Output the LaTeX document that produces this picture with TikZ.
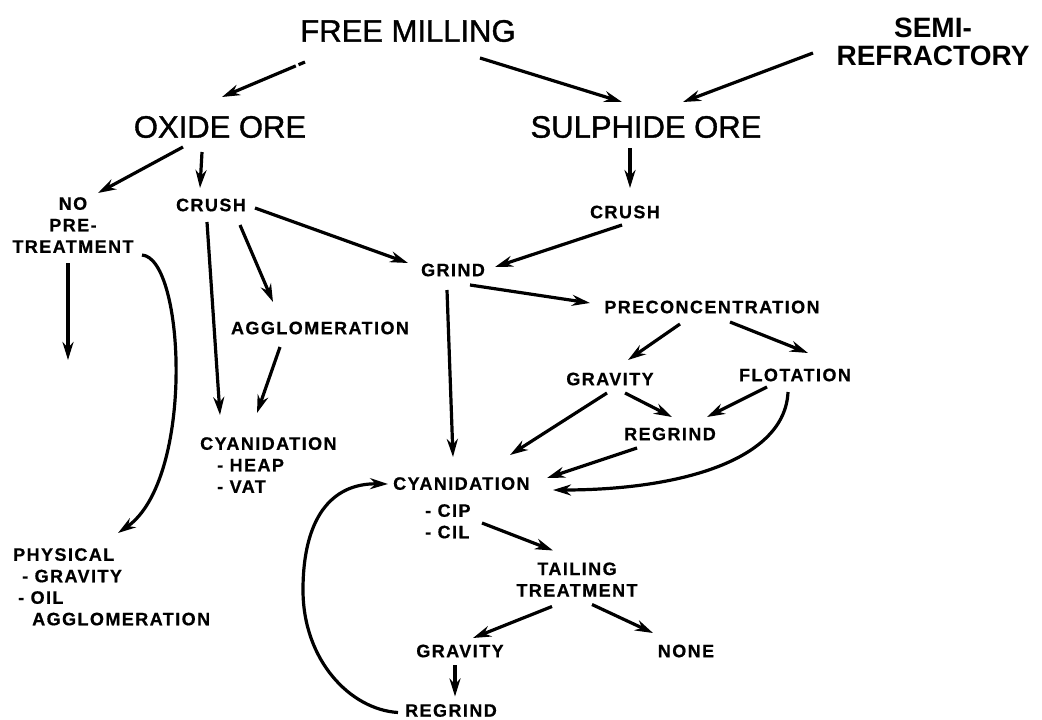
\documentclass[tikz,border=0pt]{standalone}
\usepackage{fontspec}
\setmainfont{Liberation Sans}
\newfontfamily\bigfont[FakeBold=1.2]{Liberation Sans}
\newfontfamily\lblfont[LetterSpace=8,FakeBold=0.6]{Liberation Sans Bold}
\usetikzlibrary{arrows.meta}
\begin{document}
\begin{tikzpicture}[x=1pt,y=-1pt,
  big/.style={font=\bigfont\fontsize{31}{31}\selectfont, inner sep=0pt},
  bigb/.style={font=\fontsize{28}{28}\selectfont\bfseries, inner sep=0pt, align=center},
  lbl/.style={font=\lblfont\fontsize{18}{21.5}\selectfont, inner sep=0pt},
  arr/.style={line width=3.2pt, -{Stealth[length=18pt,width=11pt]}},
]
\fill[white] (0,0) rectangle (1042,720);
\path[use as bounding box] (0,0) rectangle (1042,720);

\node[big] (free) at (408,31) {FREE MILLING};
\node[bigb] (semi) at (933,41.5) {SEMI-\\REFRACTORY};
\node[big] (oxide) at (220,127) {OXIDE ORE};
\node[big] (sulph) at (646,127) {SULPHIDE ORE};
\node[lbl, align=center] (no) at (73,225) {NO\\PRE-\\TREATMENT};
\node[lbl] (crushL) at (211,205) {CRUSH};
\node[lbl] (crushR) at (625,212) {CRUSH};
\node[lbl] (grind) at (453,270) {GRIND};
\node[lbl] (precon) at (712,307) {PRECONCENTRATION};
\node[lbl] (agglom) at (320,328) {AGGLOMERATION};
\node[lbl] (gravM) at (610,379) {GRAVITY};
\node[lbl] (flot) at (795,375) {FLOTATION};
\node[lbl] (regrM) at (670,434) {REGRIND};
\node[lbl, align=left, anchor=north west] (cyanL) at (200,437) {CYANIDATION\\\hspace*{17pt}- HEAP\\\hspace*{17pt}- VAT};
\node[lbl, align=left, anchor=north west] (cyanR) at (393,477) {CYANIDATION\\[5.5pt]\hspace*{32pt}- CIP\\\hspace*{32pt}- CIL};
\node[lbl, align=left, anchor=north west] (phys) at (13,548) {PHYSICAL\\\hspace*{9pt}- GRAVITY\\\hspace*{5pt}- OIL\\\hspace*{19pt}AGGLOMERATION};
\node[lbl, align=center] (tail) at (577,579.5) {TAILING\\TREATMENT};
\node[lbl] (gravB) at (460,651) {GRAVITY};
\node[lbl] (none) at (686,651) {NONE};
\node[lbl] (regrB) at (451,710.5) {REGRIND};

\coordinate (noend) at (68,360);
\coordinate (loopL) at (303,590);

\draw[arr, dash pattern=on 7pt off 3pt on 400pt] ([shift={(-103,31)}]free.center) -- ([shift={(2,-30)}]oxide.center);
\draw[arr] ([shift={(72,27)}]free.center) -- ([shift={(-24,-25)}]sulph.center);
\draw[arr] ([shift={(-120,11.5)}]semi.center) -- ([shift={(37,-25)}]sulph.center);
\draw[arr] ([shift={(-37,20)}]oxide.center) -- ([shift={(25,-32)}]no.center);
\draw[arr] ([shift={(-18,25)}]oxide.center) -- ([shift={(-11,-17)}]crushL.center);
\draw[arr] ([shift={(-16,21)}]sulph.center) -- ([shift={(5,-24)}]crushR.center);
\draw[arr] ([shift={(-5,38)}]no.center) -- (noend);
\draw[arr] ([shift={(69,30)}]no.center) .. controls +(43,3) and +(77,-53) .. ([shift={(105,-15)}]phys.north west);
\draw[arr] ([shift={(44,3)}]crushL.center) -- ([shift={(-45,-7)}]grind.center);
\draw[arr] ([shift={(29,20)}]crushL.center) -- ([shift={(-47,-26)}]agglom.center);
\draw[arr] ([shift={(-4,17)}]crushL.center) -- ([shift={(20,-22)}]cyanL.north west);
\draw[arr] ([shift={(-40,19)}]agglom.center) -- ([shift={(57,-24)}]cyanL.north west);
\draw[arr] ([shift={(-3,13)}]crushR.center) -- ([shift={(42,-3)}]grind.center);
\draw[arr] ([shift={(17,15)}]grind.center) -- ([shift={(-122,-4)}]precon.center);
\draw[arr] ([shift={(-6,20)}]grind.center) -- ([shift={(60,-20)}]cyanR.north west);
\draw[arr] ([shift={(-32,17)}]precon.center) -- ([shift={(18,-19)}]gravM.center);
\draw[arr] ([shift={(18,15)}]precon.center) -- ([shift={(13,-22)}]flot.center);
\draw[arr] ([shift={(-3,14)}]gravM.center) -- ([shift={(117,-22)}]cyanR.north west);
\draw[arr] ([shift={(15,14)}]gravM.center) -- ([shift={(2,-17)}]regrM.center);
\draw[arr] ([shift={(-28,12)}]flot.center) -- ([shift={(37,-17)}]regrM.center);
\draw[arr] ([shift={(-33,14)}]regrM.center) -- ([shift={(154,1)}]cyanR.north west);
\draw[arr] ([shift={(-7,17)}]flot.center) .. controls +(-3,68) and +(127,0) .. ([shift={(160,13)}]cyanR.north west);
\draw[arr] ([shift={(89,46)}]cyanR.north west) -- ([shift={(-24,-29)}]tail.center);
\draw[arr] ([shift={(-25,27)}]tail.center) -- ([shift={(13,-13)}]gravB.center);
\draw[arr] ([shift={(15,25)}]tail.center) -- ([shift={(-33,-18)}]none.center);
\draw[arr] ([shift={(-5,14)}]gravB.center) -- ([shift={(4,-14)}]regrB.center);
\draw[arr] ([shift={(-53,2)}]regrB.center) .. controls +(-48,-3) and +(0,70) .. (loopL)
  .. controls +(0,-70) and +(-58,-1) .. ([shift={(-5,7)}]cyanR.north west);
\end{tikzpicture}
\end{document}
